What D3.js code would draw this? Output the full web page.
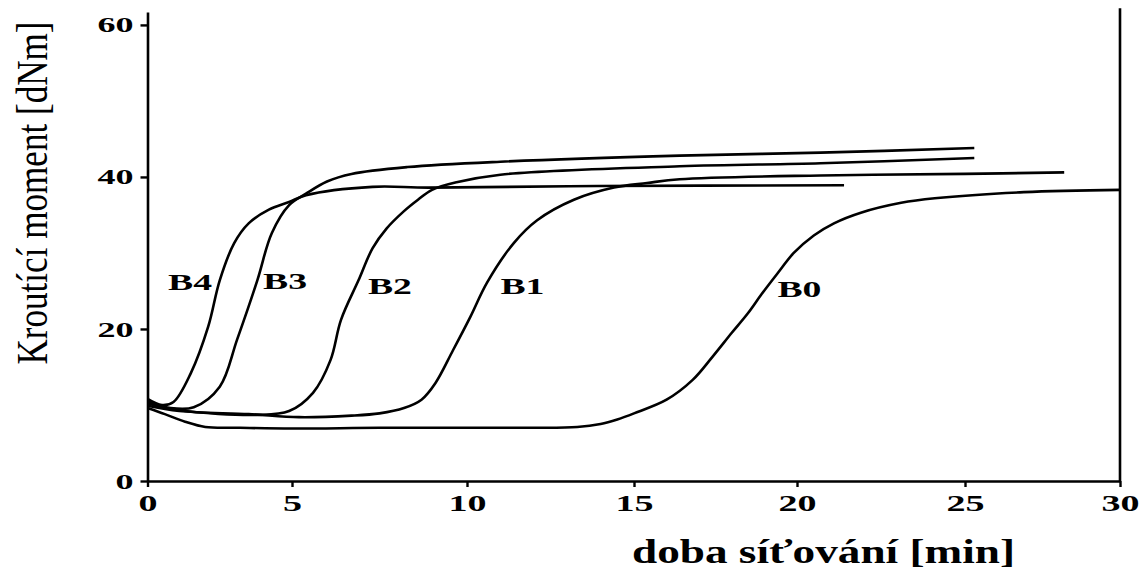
<!DOCTYPE html>
<html>
<head>
<meta charset="utf-8">
<script src="https://cdn.jsdelivr.net/npm/d3@7"></script>
<style>
  body { margin: 0; background: #fff; }
  text { font-family: "Liberation Serif", "Times New Roman", serif; fill: #000; }
</style>
</head>
<body>
<svg id="chart" width="1143" height="570"></svg>
<script>
// axis ticks
const xTicks = [0, 5, 10, 15, 20, 25, 30]
const yTicks = [0, 20, 40, 60]

// curves: [time (min), torque (dNm)]
const seriesNames = ["B0", "B1", "B2", "B3", "B4"]
const b0 = [[0, 9.6], [0.6, 8.8], [1.3, 7.8], [2.0, 7.1], [3.2, 7.0], [5, 6.9], [7.5, 7.0], [10, 7.0], [12.0, 7.0],
  [13.3, 7.1], [14.0, 7.5], [14.5, 8.1], [15.0, 8.9], [16.0, 10.7], [16.8, 13.3], [17.4, 16.3], [18.0, 19.5],
  [18.5, 22.1], [18.9, 24.5], [19.4, 27.3], [19.9, 30.0], [20.5, 32.3], [21.1, 33.9], [21.9, 35.3], [23.1, 36.6],
  [24.1, 37.2], [26.9, 38.0], [30, 38.3]]
const b1 = [[0, 9.9], [1.1, 9.2], [3.5, 8.8], [5.2, 8.4], [6.7, 8.6], [7.5, 8.9], [8.2, 9.6], [8.7, 10.7], [9.1, 12.9],
  [9.6, 17.2], [10.1, 21.6], [10.6, 26.1], [11.4, 31.3], [12.1, 34.3], [13.2, 37.0], [14.4, 38.6], [15.4, 39.2],
  [16.4, 39.7], [20.7, 40.2], [25, 40.4], [28.2, 40.6]]
const b2 = [[0, 10.2], [1.1, 9.3], [3.8, 8.7], [4.9, 9.2], [5.6, 11.6], [6.1, 15.9], [6.4, 21.2], [6.9, 26.4],
  [7.3, 30.6], [7.7, 33.2], [8.2, 35.5], [8.6, 37.0], [9.0, 38.3], [9.7, 39.3], [11.0, 40.3], [16.4, 41.4],
  [20.7, 41.8], [25.3, 42.5]]
const b3 = [[0, 10.5], [0.8, 9.6], [1.6, 9.7], [2.5, 12.4], [3.1, 18.6], [3.8, 26.4], [4.3, 32.6], [4.9, 36.3],
  [5.4, 37.8], [6.0, 39.4], [6.7, 40.4], [8.3, 41.3], [11.0, 42.0], [16.4, 42.8], [20.7, 43.2], [25.3, 43.8]]
const b4 = [[0, 10.8], [0.5, 10.0], [0.9, 10.4], [1.5, 14.2], [2.1, 20.3], [2.5, 26.4], [3.0, 31.3], [3.5, 33.9],
  [4.2, 35.7], [4.9, 36.7], [5.4, 37.6], [7.3, 38.7], [8.9, 38.6], [13.9, 38.8], [21.4, 38.9]]
const seriesData = [b0, b1, b2, b3, b4]

// where each curve name sits (data coords of the label's left baseline)
const labelAt = { B0: [19.4, 24.2], B1: [11.0, 24.6], B2: [7.17, 24.6], B3: [4.0, 25.3], B4: [0.71, 25.1] }

let svg = d3.select("#chart")

// the scanned axis is not quite even, so map each tick to where it sits
let xScale = d3.scaleLinear()
  .domain(xTicks)
  .range([147.5, 292, 467, 634, 797, 965, 1120])

let yScale = d3.scaleLinear()
  .domain([0, 61.7])
  .range([481, 12])

// x axis
let xAxis = svg.append("g")
  .attr("transform", `translate(0, ${yScale(0)})`)
  .call(d3.axisBottom(xScale).tickValues(xTicks).tickSize(6).tickSizeOuter(0).tickPadding(8))
xAxis.select(".domain").attr("stroke-width", 2.6)
xAxis.selectAll(".tick line").attr("stroke-width", 2.4)
xAxis.selectAll(".tick text")
  .style("font-size", "23px").style("font-weight", "bold")
  .style("font-family", "Liberation Serif, serif").attr("fill", "#000")
  .attr("textLength", d => String(d).length * 19)
  .attr("lengthAdjust", "spacingAndGlyphs")

// y axis
let yAxis = svg.append("g")
  .attr("transform", `translate(${xScale(0)}, 0)`)
  .call(d3.axisLeft(yScale).tickValues(yTicks).tickSize(7).tickSizeOuter(0).tickPadding(7))
yAxis.select(".domain").attr("stroke-width", 2.6)
yAxis.selectAll(".tick line").attr("stroke-width", 2.4)
yAxis.selectAll(".tick text")
  .style("font-size", "22px").style("font-weight", "bold")
  .style("font-family", "Liberation Serif, serif").attr("fill", "#000")
  .attr("textLength", d => String(d).length * 18)
  .attr("lengthAdjust", "spacingAndGlyphs")

// right frame line
svg.append("line")
  .attr("x1", xScale(30)).attr("x2", xScale(30))
  .attr("y1", yScale(0)).attr("y2", yScale(62.2))
  .attr("stroke", "#000").attr("stroke-width", 2.6)

// curves
let line = d3.line()
  .x(d => xScale(d[0]))
  .y(d => yScale(d[1]))
  .curve(d3.curveCatmullRom.alpha(0.5))

svg.selectAll("path.curve")
  .data(seriesData)
  .enter()
  .append("path")
  .attr("class", "curve")
  .attr("d", line)
  .attr("fill", "none")
  .attr("stroke", "#000")
  .attr("stroke-width", 2.6)

// curve names
svg.selectAll("text.name")
  .data(seriesNames)
  .enter()
  .append("text")
  .attr("class", "name")
  .attr("x", d => xScale(labelAt[d][0]))
  .attr("y", d => yScale(labelAt[d][1]))
  .style("font-size", "24px")
  .style("font-weight", "bold")
  .attr("textLength", 44)
  .attr("lengthAdjust", "spacingAndGlyphs")
  .text(d => d)

// axis titles
svg.append("text")
  .attr("x", 632)
  .attr("y", 563)
  .style("font-size", "33px")
  .style("font-weight", "bold")
  .attr("textLength", 383)
  .attr("lengthAdjust", "spacingAndGlyphs")
  .text("doba síťování [min]")

svg.append("text")
  .attr("transform", "translate(47, 193) scale(1.45, 1) rotate(-90)")
  .style("text-anchor", "middle")
  .style("font-size", "30px")
  .attr("textLength", 343)
  .attr("lengthAdjust", "spacingAndGlyphs")
  .text("Kroutící moment [dNm]")
</script>
</body>
</html>
